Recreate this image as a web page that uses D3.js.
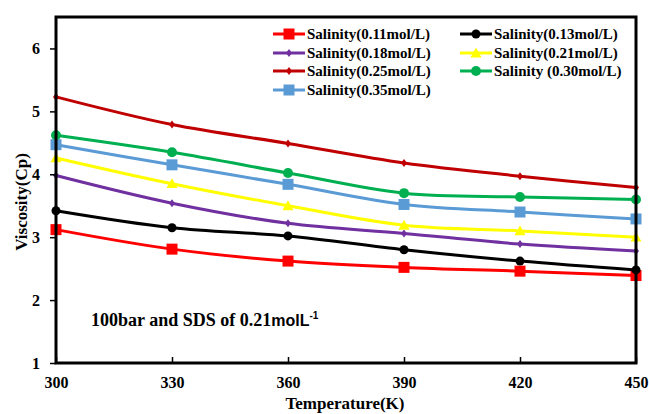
<!DOCTYPE html>
<html><head><meta charset="utf-8">
<script src="https://cdn.jsdelivr.net/npm/d3@7"></script>
<style>body{margin:0;background:#fff}svg{display:block}</style>
</head><body>
<svg id="chart" width="649" height="414"></svg>
<script>
const temps = [300, 330, 360, 390, 420, 450];
const xTicks = [300, 330, 360, 390, 420, 450];
const yTicks = [1, 2, 3, 4, 5, 6];
const s011 = [3.12, 2.81, 2.62, 2.52, 2.46, 2.39];
const s013 = [3.42, 3.15, 3.02, 2.80, 2.62, 2.48];
const s018 = [3.98, 3.54, 3.22, 3.06, 2.89, 2.78];
const s021 = [4.26, 3.85, 3.50, 3.19, 3.10, 3.00];
const s025 = [5.23, 4.79, 4.49, 4.18, 3.97, 3.79];
const s030 = [4.62, 4.35, 4.02, 3.70, 3.64, 3.60];
const s035 = [4.47, 4.15, 3.84, 3.52, 3.40, 3.29];
const names = ["Salinity(0.11mol/L)","Salinity(0.13mol/L)","Salinity(0.18mol/L)","Salinity(0.21mol/L)","Salinity(0.25mol/L)","Salinity (0.30mol/L)","Salinity(0.35mol/L)"];

const series = [
  {name:names[0], values:s011, color:"#FF0000", marker:"square", size:11},
  {name:names[1], values:s013, color:"#000000", marker:"circle", size:9},
  {name:names[2], values:s018, color:"#7030A0", marker:"diamond", size:8},
  {name:names[3], values:s021, color:"#FFFF00", marker:"triangle", size:11},
  {name:names[4], values:s025, color:"#C00000", marker:"diamond", size:8},
  {name:names[5], values:s030, color:"#00B050", marker:"circle", size:10},
  {name:names[6], values:s035, color:"#5B9BD5", marker:"square", size:11}
];

const svg = d3.select("#chart");
const m = {l:56, r:13, t:17, b:51};
const W = 649, H = 414;
const x = d3.scaleLinear().domain([300,450]).range([m.l, W-m.r]);
const y = d3.scaleLinear().domain([1,6.5]).range([H-m.b, m.t]);
const serif = "'Liberation Serif','Times New Roman',serif";
const sans = "'Liberation Sans',Arial,sans-serif";

const line = d3.line().x((d,i)=>x(temps[i])).y(d=>y(d)).curve(d3.curveCatmullRom.alpha(0.5));
function markerPath(type, size){
  const h = size/2;
  if(type==="square") return `M${-h},${-h}H${h}V${h}H${-h}Z`;
  if(type==="circle") return d3.symbol(d3.symbolCircle, Math.PI*h*h)();
  if(type==="diamond") return `M0,${-h}L${h*0.75},0L0,${h}L${-h*0.75},0Z`;
  if(type==="triangle") return `M0,${-h}L${h},${h*0.8}L${-h},${h*0.8}Z`;
}
const order = [0,1,2,3,6,5,4];
order.forEach(k=>{
  const s = series[k];
  const g = svg.append("g");
  g.append("path").attr("d", line(s.values)).attr("fill","none").attr("stroke",s.color).attr("stroke-width",3);
  g.selectAll("path.mk").data(s.values).join("path").attr("class","mk")
    .attr("transform",(d,i)=>`translate(${x(temps[i])},${y(d)})`)
    .attr("d", markerPath(s.marker, s.size)).attr("fill", s.color);
});

svg.append("rect").attr("x",m.l).attr("y",m.t).attr("width",W-m.r-m.l).attr("height",H-m.b-m.t)
  .attr("fill","none").attr("stroke","#000").attr("stroke-width",3);

const xAxis = svg.append("g").attr("transform",`translate(0,${H-m.b})`)
  .call(d3.axisBottom(x).tickValues(xTicks).tickSizeInner(-6).tickSizeOuter(0).tickPadding(14).tickFormat(d3.format("d")));
xAxis.select(".domain").remove();
xAxis.selectAll("line").attr("stroke-width",1.5);
xAxis.selectAll("text").attr("font-family",serif).attr("font-weight","bold").attr("font-size",16).attr("fill","#000");

const yAxis = svg.append("g").attr("transform",`translate(${m.l},0)`)
  .call(d3.axisLeft(y).tickValues(yTicks).tickSizeInner(6).tickSizeOuter(0).tickPadding(10).tickFormat(d3.format("d")));
yAxis.select(".domain").remove();
yAxis.selectAll("line").attr("stroke-width",1.5);
yAxis.selectAll("text").attr("font-family",serif).attr("font-weight","bold").attr("font-size",16).attr("fill","#000");

svg.append("text").attr("x",345).attr("y",409).attr("text-anchor","middle")
  .attr("font-family",serif).attr("font-weight","bold").attr("font-size",17).text("Temperature(K)");
svg.append("text").attr("transform","translate(27,202) rotate(-90)").attr("text-anchor","middle")
  .attr("font-family",serif).attr("font-weight","bold").attr("font-size",17).text("Viscosity(Cp)");

const ann = svg.append("text").attr("x",91).attr("y",326).attr("font-family",serif).attr("font-weight","bold").attr("font-size",18);
ann.append("tspan").text("100bar and SDS of 0.21");
ann.append("tspan").attr("font-family",sans).attr("font-weight","bold").attr("font-size",16).text("molL");
ann.append("tspan").attr("font-family",sans).attr("font-weight","bold").attr("font-size",10).attr("dy",-7).text("-1");

const legPos = [[273,34],[460,34],[273,53],[460,53],[273,71],[460,71],[273,90]];
series.forEach((s,i)=>{
  const [lx,ly] = legPos[i];
  const g = svg.append("g").attr("transform",`translate(${lx},${ly})`);
  g.append("line").attr("x1",0).attr("x2",32).attr("y1",0).attr("y2",0).attr("stroke",s.color).attr("stroke-width",3);
  g.append("path").attr("transform","translate(16,0)").attr("d",markerPath(s.marker,s.size)).attr("fill",s.color);
  g.append("text").attr("x",34).attr("y",5).attr("font-family",serif).attr("font-weight","bold").attr("font-size",15).text(s.name);
});
</script>
</body></html>
